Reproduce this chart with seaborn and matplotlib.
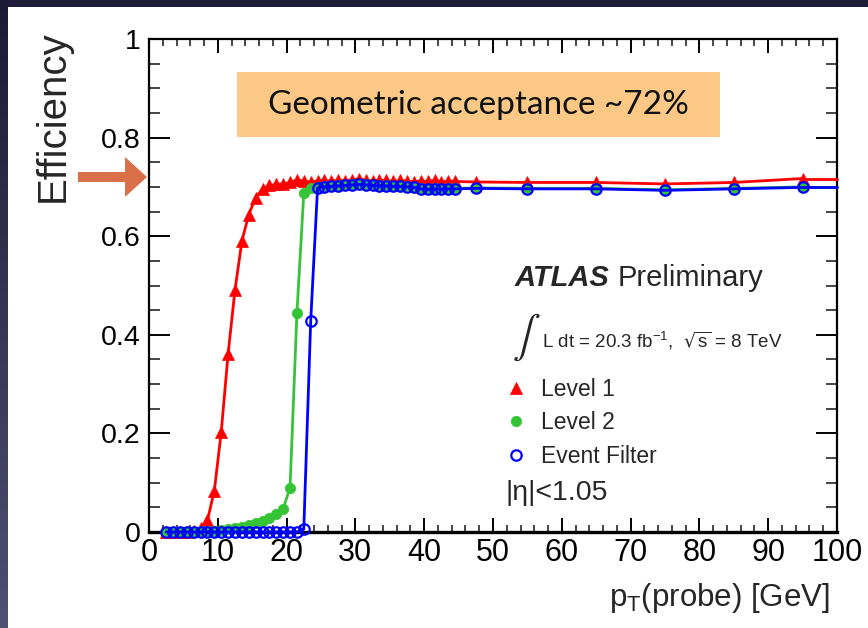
import numpy as np
import pandas as pd
import matplotlib
matplotlib.use("Agg")
import matplotlib.pyplot as plt
import seaborn as sns
from matplotlib import font_manager
from matplotlib.patches import Rectangle, FancyArrow
from matplotlib.lines import Line2D
from matplotlib.colors import LinearSegmentedColormap
from matplotlib.ticker import FixedLocator, MultipleLocator

# ---------------- data ----------------
pt_centers = [2.5, 3.5, 4.5, 5.5, 6.5, 7.5, 8.5, 9.5, 10.5, 11.5,
              12.5, 13.5, 14.5, 15.5, 16.5, 17.5, 18.5, 19.5, 20.5, 21.5,
              22.5, 23.5, 24.5, 25.5, 26.5, 27.5, 28.5, 29.5, 30.5, 31.5,
              32.5, 33.5, 34.5, 35.5, 36.5, 37.5, 38.5, 39.5, 40.5, 41.5,
              42.5, 43.5, 44.5, 47.5, 55, 65, 75, 85, 95]

eff_level1 = [0.000, 0.000, 0.000, 0.001, 0.003, 0.008, 0.024, 0.084, 0.203, 0.362,
              0.491, 0.590, 0.644, 0.678, 0.696, 0.703, 0.705, 0.706, 0.709, 0.714,
              0.712, 0.710, 0.712, 0.713, 0.711, 0.714, 0.712, 0.715, 0.716, 0.714,
              0.712, 0.714, 0.713, 0.711, 0.713, 0.712, 0.710, 0.712, 0.711, 0.713,
              0.710, 0.712, 0.711, 0.710, 0.709, 0.709, 0.706, 0.709, 0.717]

eff_level2 = [0.000, 0.000, 0.000, 0.001, 0.001, 0.002, 0.002, 0.003, 0.004, 0.006,
              0.008, 0.011, 0.014, 0.018, 0.022, 0.028, 0.036, 0.047, 0.090, 0.444,
              0.688, 0.697, 0.700, 0.701, 0.702, 0.703, 0.704, 0.705, 0.706, 0.705,
              0.704, 0.703, 0.703, 0.702, 0.702, 0.701, 0.700, 0.697, 0.696, 0.697,
              0.696, 0.697, 0.697, 0.698, 0.697, 0.697, 0.694, 0.697, 0.700]

eff_ef = [0.000, 0.000, 0.000, 0.000, 0.000, 0.000, 0.000, 0.000, 0.000, 0.000,
          0.000, 0.000, 0.000, 0.000, 0.000, 0.000, 0.000, 0.000, 0.000, 0.000,
          0.006, 0.427, 0.698, 0.700, 0.701, 0.702, 0.703, 0.704, 0.705, 0.704,
          0.703, 0.702, 0.702, 0.701, 0.701, 0.700, 0.699, 0.696, 0.695, 0.696,
          0.695, 0.696, 0.696, 0.697, 0.696, 0.696, 0.693, 0.696, 0.699]

series_labels = ["Level 1", "Level 2", "Event Filter"]
x_ticks = [0, 10, 20, 30, 40, 50, 60, 70, 80, 90, 100]
x_tick_labels = ["0", "10", "20", "30", "40", "50", "60", "70", "80", "90", "100"]
y_ticks = [0, 0.2, 0.4, 0.6, 0.8, 1.0]
y_tick_labels = ["0", "0.2", "0.4", "0.6", "0.8", "1"]

# ---------------- style ----------------
sns.set_style("ticks")
available = {f.name for f in font_manager.fontManager.ttflist}
NARROW = "Liberation Sans Narrow" if "Liberation Sans Narrow" in available else "Liberation Sans"
plt.rcParams["font.family"] = ["Liberation Sans", "DejaVu Sans"]
plt.rcParams["axes.linewidth"] = 1.6

W, H = 868, 628
fig = plt.figure(figsize=(W / 100, H / 100), dpi=100)
fig.patch.set_facecolor("white")

# dark slide frame (top band + left gradient band)
bg_top = fig.add_axes([0, 1 - 7 / H, 1, 7 / H])
bg_top.set_facecolor("#1e1c38")
bg_top.set_xticks([]); bg_top.set_yticks([])
for s in bg_top.spines.values():
    s.set_visible(False)
bg_left = fig.add_axes([0, 0, 8 / W, 1])
cmap = LinearSegmentedColormap.from_list("band", ["#1c1b36", "#4e5072"])
bg_left.imshow(np.linspace(0, 1, 256).reshape(-1, 1), aspect="auto", cmap=cmap)
bg_left.axis("off")

ax = fig.add_axes([149 / W, 1 - 532 / H, 688 / W, 493 / H])
ax.set_facecolor("white")

df = pd.DataFrame({"pt": pt_centers, "l1": eff_level1, "l2": eff_level2, "ef": eff_ef})
x_max = x_ticks[-1]

styles = [
    ("l1", "#ff0000", dict(marker="^", markersize=8, markerfacecolor="#ff0000", markeredgecolor="#ff0000", markeredgewidth=0.5)),
    ("l2", "#35c435", dict(marker="o", markersize=7.5, markerfacecolor="#35c435", markeredgecolor="#35c435", markeredgewidth=0.5)),
    ("ef", "#0000ff", dict(marker="o", markersize=7.5, markerfacecolor="none", markeredgecolor="#0000ff", markeredgewidth=1.6)),
]
for i, (col, color, mk) in enumerate(styles):
    sns.lineplot(data=df, x="pt", y=col, ax=ax, color=color, linewidth=2.0,
                 estimator=None, sort=False, clip_on=False, zorder=3 + i, **mk)
    # continue the last value to the end of the axis range
    ax.plot([df["pt"].iloc[-1], x_max], [df[col].iloc[-1], df[col].iloc[-1]],
            color=color, linewidth=2.0, zorder=3 + i, clip_on=False)

ax.set_xlim(0, 100)
ax.set_ylim(0, 1)
ax.xaxis.set_major_locator(FixedLocator(x_ticks))
ax.set_xticklabels(x_tick_labels, family=NARROW, fontsize=22)
ax.yaxis.set_major_locator(FixedLocator(y_ticks))
ax.set_yticklabels(y_tick_labels, fontsize=20.5)
ax.xaxis.set_minor_locator(MultipleLocator(2))
ax.yaxis.set_minor_locator(MultipleLocator(0.05))
ax.tick_params(axis="x", which="major", direction="in", top=True, length=10, width=1.4, pad=4, colors="black")
ax.tick_params(axis="x", which="minor", direction="in", top=True, length=5, width=1.2)
ax.tick_params(axis="y", which="major", direction="in", right=True, length=15, width=1.4, pad=6, colors="black")
ax.tick_params(axis="y", which="minor", direction="in", right=True, length=8, width=1.2)
for s in ax.spines.values():
    s.set_color("black")
    s.set_linewidth(1.6)
ax.spines["bottom"].set_linewidth(2.4)

ax.set_xlabel(r"p$_\mathregular{T}$(probe) [GeV]", family=NARROW, fontsize=22.5, ha="right", va="top")
ax.xaxis.set_label_coords(0.99, -0.1)
ax.set_ylabel("Efficiency", family=NARROW, fontsize=29)
ax.yaxis.set_label_coords(-0.112, 0.844)

# geometric acceptance box
ax.add_patch(Rectangle((0.128, 0.801), 0.702, 0.132, transform=ax.transAxes,
                       facecolor="#fbc985", edgecolor="none", zorder=2))
ax.text(0.479, 0.867, "Geometric acceptance ~72%", transform=ax.transAxes,
        family=["Lato", "DejaVu Sans"], fontsize=24, color="#111111",
        ha="center", va="center", zorder=6)

# arrow pointing to the acceptance level
fig.patches.append(FancyArrow(78 / W, 1 - 177 / H, (147 - 78) / W, 0, width=10 / H,
                              head_width=40 / H, head_length=22 / W, length_includes_head=True,
                              transform=fig.transFigure, facecolor="#d9704a", edgecolor="none"))

# ATLAS text block
t = ax.text(0.532, 0.515, "ATLAS", transform=ax.transAxes, fontsize=21, ha="left", va="center",
            fontweight="bold", fontstyle="italic")
fig.canvas.draw()
bb = t.get_window_extent()
x_end = ax.transAxes.inverted().transform((bb.x1, bb.y0))[0]
ax.text(x_end + 0.012, 0.515, "Preliminary", transform=ax.transAxes, fontsize=21,
        ha="left", va="center")

ax.text(0.527, 0.394, r"$\int$", transform=ax.transAxes, fontsize=30, math_fontfamily="stix",
        ha="left", va="center")
ax.text(0.571, 0.388, r"L dt = 20.3 fb$^\mathregular{-1}$,  $\sqrt{\mathregular{s}}$ = 8 TeV",
        transform=ax.transAxes, fontsize=13.5, ha="left", va="center")

handles = [Line2D([], [], linestyle="none", **styles[0][2]),
           Line2D([], [], linestyle="none", **styles[1][2]),
           Line2D([], [], linestyle="none", **styles[2][2])]
leg = ax.legend(handles, series_labels, loc="upper left", bbox_to_anchor=(0.517, 0.312),
                frameon=False, fontsize=16.5, handlelength=1.0, handletextpad=0.6,
                labelspacing=0.45, borderpad=0, borderaxespad=0)

ax.text(0.518, 0.08, "|η|<1.05", transform=ax.transAxes, fontsize=20.5, ha="left", va="center")

fig.savefig("out.png", dpi=100, facecolor=fig.get_facecolor())
